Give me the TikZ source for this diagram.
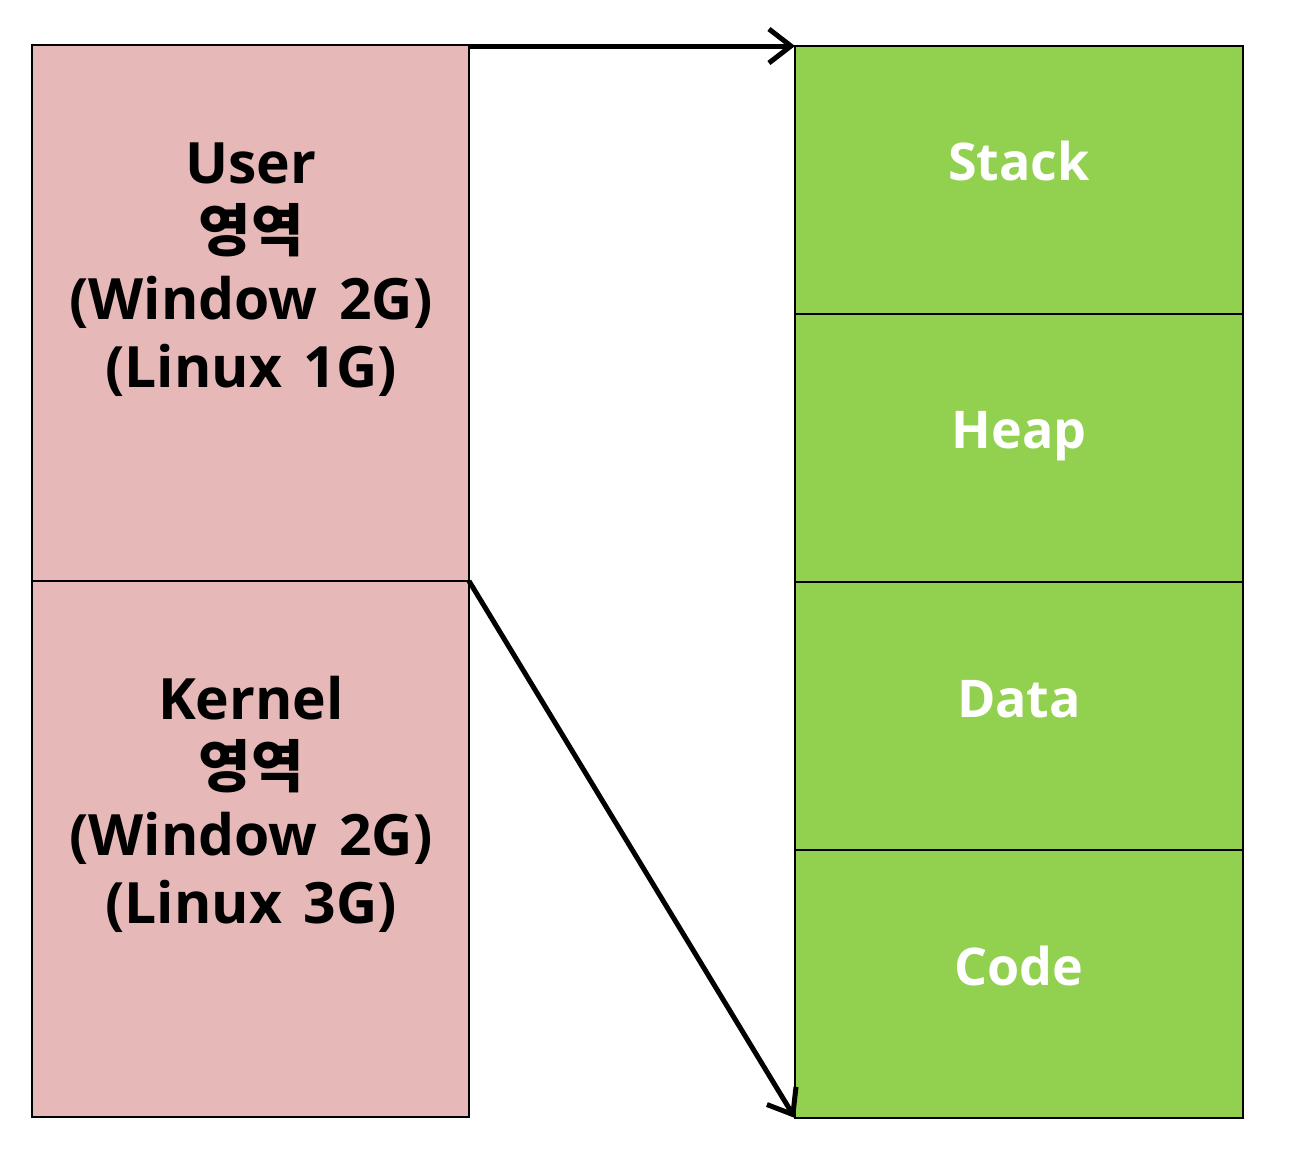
\documentclass[tikz,border=0pt]{standalone}
\usepackage{fontspec}
\setmainfont{Open Sans}
\newfontfamily\kr{Noto Sans CJK KR}
\usetikzlibrary{arrows.meta}
\definecolor{pinkfill}{HTML}{E6B8B7}
\definecolor{greenfill}{HTML}{92D050}
\newcommand{\gapsp}{\hspace{0.38em}}
\begin{document}
\begin{tikzpicture}[x=1pt,y=-1pt,
  seg/.style={draw=black,line width=2.5pt},
  lbl/.style={font=\fontsize{57}{68}\selectfont\bfseries,align=center,inner sep=0pt,anchor=north},
  wlbl/.style={font=\fontsize{52}{60}\selectfont\bfseries,text=white,inner sep=0pt,anchor=base},
  conn/.style={line width=5pt,-{Straight Barb[length=22pt,width=34pt,line width=5pt]}}]
\useasboundingbox (0,0) rectangle (1290,1152);
\path[seg,fill=pinkfill] (32,45) rectangle (469,581);
\path[seg,fill=pinkfill] (32,581) rectangle (469,1117);
\coordinate (utr) at (469,46);
\coordinate (kl) at (469,581);
\path[seg,fill=greenfill] (795,46) rectangle (1243,314);
\path[seg,fill=greenfill] (795,314) rectangle (1243,582);
\path[seg,fill=greenfill] (795,582) rectangle (1243,850);
\path[seg,fill=greenfill] (795,850) rectangle (1243,1118);
\coordinate (stl) at (795,46);
\coordinate (cbl) at (795,1118);
\node[lbl] (user) at (251,143) {User\\{\kr 영역}\\(Window\gapsp 2G)\\(Linux\gapsp 1G)};
\node[lbl] (kern) at (251,676) {Kernel\\{\kr 영역}\\(Window\gapsp 2G)\\(Linux\gapsp 3G)};
\node[wlbl] (stack) at (1019,180) {Stack};
\node[wlbl] (heap) at (1019,448) {Heap};
\node[wlbl] (data) at (1019,717) {Data};
\node[wlbl] (code) at (1019,985) {Code};
\draw[conn] (utr) -- (stl);
\draw[conn] (kl) -- (cbl);
\end{tikzpicture}
\end{document}
